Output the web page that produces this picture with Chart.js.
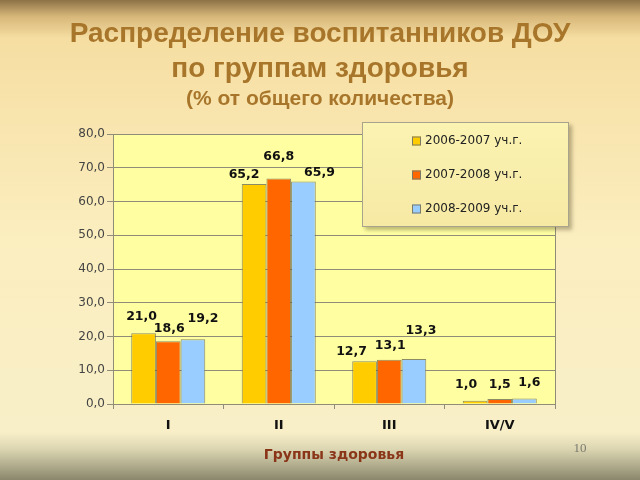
<!DOCTYPE html>
<html><head><meta charset="utf-8">
<script src="https://cdn.jsdelivr.net/npm/chart.js@4"></script>
<style>html,body{margin:0;padding:0;overflow:hidden;background:#f8e6b0}#wrap{width:640px;height:480px;position:relative}</style>
</head><body><div id="wrap"><canvas id="c" width="640" height="480"></canvas></div>
<script>
// ---- data ----
const categories = ['I', 'II', 'III', 'IV/V'];
const seriesNames = ['2006-2007 уч.г.', '2007-2008 уч.г.', '2008-2009 уч.г.'];
const values0607 = [21.0, 65.2, 12.7, 1.0];
const values0708 = [18.6, 66.8, 13.1, 1.5];
const values0809 = [19.2, 65.9, 13.3, 1.6];
const yTickValues = [0, 10, 20, 30, 40, 50, 60, 70, 80];
const titleLines = ['Распределение воспитанников ДОУ', 'по группам здоровья', '(% от общего количества)'];
const xAxisTitle = 'Группы здоровья';
const pageNumber = '10';

// ---- styles ----
const seriesColors = ['#FFCC00', '#FF6600', '#99CCFF'];
const gridColor = '#8f8c78';
// label offsets (dx, dy of label centre relative to bar top centre), per series per category
const labelOffsets = [
  [[-2, -16], [-10, -9], [-13, -9], [-9, -16]],
  [[1, -12], [0, -22], [1, -14], [0, -14]],
  [[10, -20], [16, -9], [7, -28], [5, -16]]
];
const fmt = v => v.toFixed(1).replace('.', ',');

const backgroundPlugin = {
  id: 'bg',
  beforeDraw(chart) {
    const ctx = chart.ctx, W = chart.width, H = chart.height;
    ctx.save();
    const g = ctx.createLinearGradient(0, 0, 0, H);
    g.addColorStop(0, '#8c7246');
    g.addColorStop(0.035, '#d8b87a');
    g.addColorStop(0.08, '#f6dea2');
    g.addColorStop(0.5, '#fbeebf');
    g.addColorStop(0.9, '#f8efc8');
    g.addColorStop(0.935, '#dcd6b2');
    g.addColorStop(1, '#8a876c');
    ctx.fillStyle = g;
    ctx.fillRect(0, 0, W, H);
    // titles
    ctx.fillStyle = '#a8762b';
    ctx.textAlign = 'center';
    ctx.textBaseline = 'alphabetic';
    ctx.font = 'bold 28px "Liberation Sans", Arial, sans-serif';
    ctx.fillText(titleLines[0], 320, 42);
    ctx.fillText(titleLines[1], 320, 77);
    ctx.font = 'bold 21px "Liberation Sans", Arial, sans-serif';
    ctx.fillText(titleLines[2], 320, 105);
    // page number
    ctx.fillStyle = '#7a7a70';
    ctx.font = '13px "Liberation Serif", serif';
    ctx.fillText(pageNumber, 580, 452);
    // plot area
    const a = chart.chartArea;
    ctx.fillStyle = '#FFFFA2';
    ctx.fillRect(a.left, a.top, a.right - a.left, a.bottom - a.top);
    ctx.restore();
  },
  afterDatasetsDraw(chart) {
    const ctx = chart.ctx, a = chart.chartArea;
    ctx.save();
    ctx.strokeStyle = gridColor;
    ctx.lineWidth = 1;
    ctx.beginPath();
    ctx.moveTo(Math.round(a.right) + 0.5, a.top);
    ctx.lineTo(Math.round(a.right) + 0.5, a.bottom);
    ctx.stroke();
    // data labels
    ctx.fillStyle = '#111';
    ctx.font = 'bold 12.5px "DejaVu Sans", Verdana, sans-serif';
    ctx.textAlign = 'center';
    ctx.textBaseline = 'middle';
    chart.data.datasets.forEach((ds, di) => {
      const meta = chart.getDatasetMeta(di);
      meta.data.forEach((bar, i) => {
        const o = labelOffsets[di][i];
        ctx.fillText(fmt(ds.data[i]), bar.x + o[0], bar.y + o[1]);
      });
    });
    ctx.restore();
  },
  afterDraw(chart) {
    // legend box
    const ctx = chart.ctx;
    const bx = 362, by = 122, bw = 207, bh = 105;
    ctx.save();
    ctx.shadowColor = 'rgba(60,50,20,0.35)';
    ctx.shadowOffsetX = 3; ctx.shadowOffsetY = 3; ctx.shadowBlur = 4;
    const lg = ctx.createLinearGradient(bx, by, bx, by + bh);
    lg.addColorStop(0, '#fbf3b2');
    lg.addColorStop(1, '#f6e9a4');
    ctx.fillStyle = lg;
    ctx.fillRect(bx, by, bw, bh);
    ctx.shadowColor = 'transparent';
    ctx.strokeStyle = '#a8a48c';
    ctx.lineWidth = 1;
    ctx.strokeRect(bx + 0.5, by + 0.5, bw - 1, bh - 1);
    ctx.font = '12px "DejaVu Sans", Verdana, sans-serif';
    ctx.textAlign = 'left';
    ctx.textBaseline = 'middle';
    chart.data.datasets.forEach((ds, i) => {
      const y = by + 19 + i * 34;
      ctx.fillStyle = ds.backgroundColor;
      ctx.fillRect(412, y - 4.5, 9, 9);
      ctx.strokeStyle = '#7a7a66';
      ctx.strokeRect(412.5, y - 4, 8, 8);
      ctx.fillStyle = '#222';
      ctx.fillText(ds.label, 425, y);
    });
    ctx.restore();
  }
};

const mkDs = (label, data, color) => ({
  label, data,
  backgroundColor: color,
  borderColor: 'rgba(100,100,80,0.75)',
  borderWidth: 1,
  categoryPercentage: 0.67,
  barPercentage: 1.0
});

new Chart(document.getElementById('c'), {
  type: 'bar',
  data: {
    labels: categories,
    datasets: [
      mkDs(seriesNames[0], values0607, seriesColors[0]),
      mkDs(seriesNames[1], values0708, seriesColors[1]),
      mkDs(seriesNames[2], values0809, seriesColors[2])
    ]
  },
  options: {
    responsive: false,
    animation: false,
    devicePixelRatio: 1,
    layout: { padding: { left: 0, right: 85, top: 134, bottom: 0 } },
    plugins: { legend: { display: false }, tooltip: { enabled: false }, title: { display: false } },
    scales: {
      x: {
        afterFit(s) { s.height = 76; },
        grid: { display: true, drawOnChartArea: false, drawTicks: true, tickLength: 5, offset: true, color: gridColor },
        border: { display: true, color: gridColor },
        ticks: { color: '#111', padding: 9, font: { family: '"DejaVu Sans", Verdana, sans-serif', size: 13, weight: 'bold' } },
        title: {
          display: true, text: xAxisTitle, color: '#8a3418',
          font: { family: '"DejaVu Sans", Verdana, sans-serif', size: 14, weight: 'bold' },
          padding: { top: 4, bottom: 16 }
        }
      },
      y: {
        min: 0, max: 80,
        afterFit(s) { s.width = 113; },
        afterBuildTicks(s) { s.ticks = yTickValues.map(v => ({ value: v })); },
        grid: { color: gridColor, tickLength: 6, drawTicks: true },
        border: { display: true, color: gridColor },
        ticks: {
          color: '#444', padding: 2,
          font: { family: '"DejaVu Sans", Verdana, sans-serif', size: 12 },
          callback: v => fmt(v)
        }
      }
    }
  },
  plugins: [backgroundPlugin]
});
</script>
</body></html>
